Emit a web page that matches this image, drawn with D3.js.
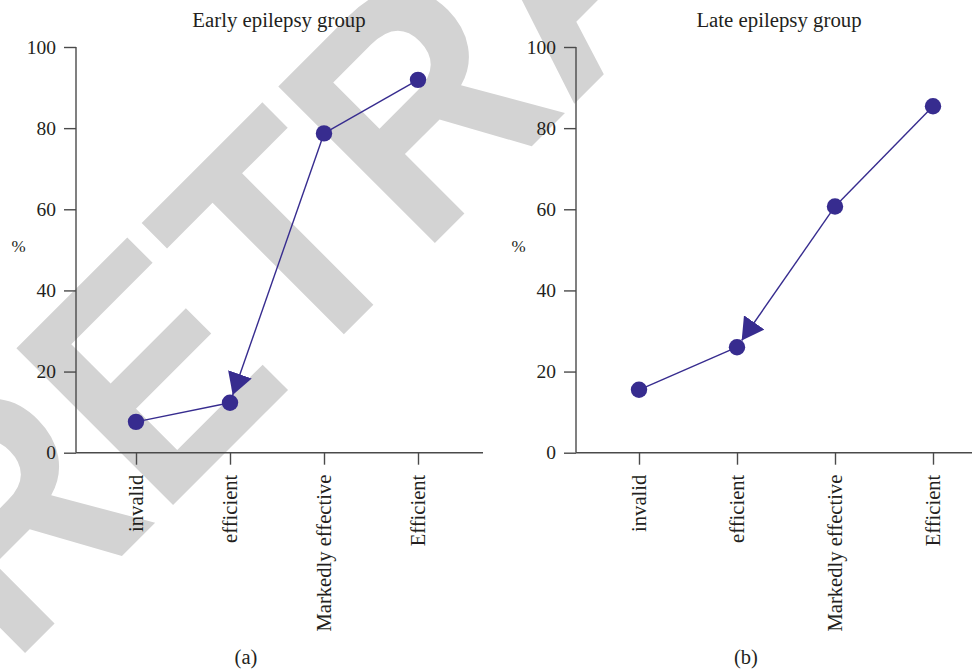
<!DOCTYPE html>
<html>
<head>
<meta charset="utf-8">
<script src="https://cdn.jsdelivr.net/npm/d3@7/dist/d3.min.js"></script>
<style>
  html, body { margin: 0; padding: 0; background: #ffffff; }
  svg { display: block; }
  text { font-family: "Liberation Serif", "Times New Roman", serif; fill: #231f20; }
</style>
</head>
<body>
<svg id="chart" width="972" height="671"></svg>
<script>
// ---- data ----
const categories = ["invalid", "efficient", "Markedly effective", "Efficient"];
const earlyValues = [7.6, 12.3, 78.7, 91.9];
const lateValues = [15.5, 26.0, 60.7, 85.4];
const yTicks = [0, 20, 40, 60, 80, 100];
const panelTitles = ["Early epilepsy group", "Late epilepsy group"];
const panelLabels = ["(a)", "(b)"];
const yAxisLabel = "%";
const watermarkText = "RETRACTED";

const svg = d3.select("#chart");
const ink = "#231f20";
const axisColor = "#4a4a4a";
const markColor = "#372c8f";

// watermark (drawn under everything)
svg.append("text")
  .attr("transform", "translate(173,505) rotate(-45) scale(0.9,1)")
  .attr("x", -254).attr("y", 0)
  .style("font-family", "'Liberation Sans', Arial, sans-serif")
  .style("font-weight", "bold")
  .style("font-size", "322px")
  .style("fill", "#d3d3d3")
  .text(watermarkText);

// arrow marker
svg.append("defs").append("marker")
  .attr("id", "arrow")
  .attr("markerUnits", "userSpaceOnUse")
  .attr("viewBox", "0 0 22 25")
  .attr("markerWidth", 22).attr("markerHeight", 25)
  .attr("refX", 22).attr("refY", 12.5)
  .attr("orient", "auto")
  .append("path")
  .attr("d", "M0,0 L22,12.5 L0,25 Z")
  .attr("fill", markColor);

const panels = [
  { values: earlyValues, axisX: 76, xRange: [136, 418], axisEnd: 483, titleX: 279, labelX: 246, pctX: 18.5 },
  { values: lateValues, axisX: 576, xRange: [639, 933], axisEnd: 972, titleX: 779, labelX: 746, pctX: 518.5 }
];

const y = d3.scaleLinear().domain([0, 100]).range([452.7, 47]);
const r = 8.2;

panels.forEach((p, i) => {
  const g = svg.append("g");
  const x = d3.scalePoint().domain(categories).range(p.xRange);

  // y axis
  const yAxis = d3.axisLeft(y).tickValues(yTicks).tickSize(12).tickPadding(8).tickFormat(d3.format("d"));
  const ya = g.append("g").attr("transform", `translate(${p.axisX},0)`).call(yAxis);
  ya.select(".domain").attr("d", `M0,${y(100)}V${y(0)}`);
  ya.selectAll("path,line").attr("stroke", axisColor).attr("stroke-width", 1.4);
  ya.selectAll("text").style("font-family", "'Liberation Serif', serif").style("font-size", "19.5px").attr("fill", ink);

  // x axis
  const xAxis = d3.axisBottom(x).tickSize(12).tickPadding(10);
  const xa = g.append("g").attr("transform", `translate(0,${y(0)})`).call(xAxis);
  xa.select(".domain").attr("d", `M${p.axisX},0H${p.axisEnd}`);
  xa.selectAll("path,line").attr("stroke", axisColor).attr("stroke-width", 1.4);
  xa.selectAll("text")
    .style("font-family", "'Liberation Serif', serif").style("font-size", "20.6px").attr("fill", ink)
    .attr("text-anchor", "end")
    .attr("transform", "rotate(-90)")
    .attr("x", -22).attr("y", 0).attr("dy", "0.33em");

  // title
  g.append("text").attr("x", p.titleX).attr("y", 27).attr("text-anchor", "middle")
    .style("font-size", "20.8px").text(panelTitles[i]);
  // sub label
  g.append("text").attr("x", p.labelX).attr("y", 664).attr("text-anchor", "middle")
    .style("font-size", "20.5px").text(panelLabels[i]);
  // % label
  g.append("text").attr("x", p.pctX).attr("y", 252).attr("text-anchor", "middle")
    .style("font-size", "17px").text(yAxisLabel);

  // segments
  const pts = categories.map((c, k) => [x(c), y(p.values[k])]);
  const segs = [[0, 1], [2, 1], [2, 3]];
  segs.forEach(([a, b], k) => {
    const [x1, y1] = pts[a], [x2, y2] = pts[b];
    let ex = x2, ey = y2;
    const withArrow = (k === 1);
    if (withArrow) {
      const len = Math.hypot(x2 - x1, y2 - y1);
      ex = x2 - (x2 - x1) / len * r;
      ey = y2 - (y2 - y1) / len * r;
    }
    const line = g.append("path")
      .attr("d", d3.line()([[x1, y1], [ex, ey]]))
      .attr("stroke", markColor).attr("stroke-width", 1.4).attr("fill", "none");
    if (withArrow) line.attr("marker-end", "url(#arrow)");
  });

  g.selectAll("circle.pt").data(p.values).enter().append("circle")
    .attr("class", "pt")
    .attr("cx", (d, k) => x(categories[k]))
    .attr("cy", d => y(d))
    .attr("r", r)
    .attr("fill", markColor);
});
</script>
</body>
</html>
